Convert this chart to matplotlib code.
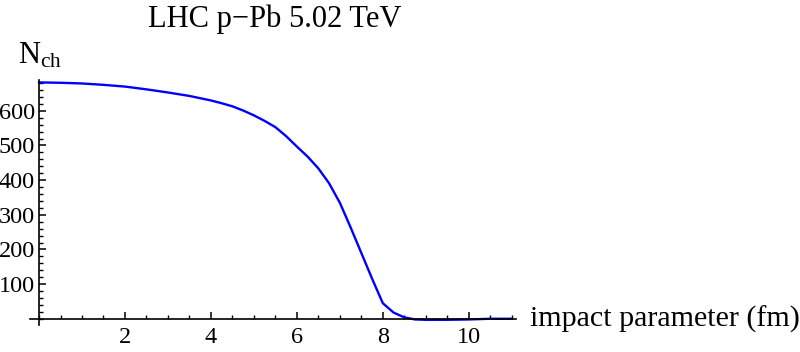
import numpy as np
import matplotlib.pyplot as plt
from matplotlib.ticker import MultipleLocator

plt.rcParams['font.family'] = ['Liberation Serif', 'DejaVu Serif']
plt.rcParams['mathtext.fontset'] = 'custom'
plt.rcParams['mathtext.rm'] = 'Liberation Serif'

# impact parameter (fm) and charged multiplicity
b = [0.0, 0.5, 1.0, 1.5, 2.0, 2.5, 3.0, 3.5, 4.0, 4.25, 4.5, 4.75, 5.0, 5.25,
     5.5, 5.75, 6.0, 6.25, 6.5, 6.75, 7.0, 7.25, 7.5, 7.75, 8.0, 8.25, 8.5,
     8.75, 9.0, 9.5, 10.0, 10.5, 11.0]
nch = [682, 681, 679, 675, 670, 662, 653, 643, 630, 622, 613, 601, 587, 571,
       553, 527, 497, 468, 434, 391, 335, 264, 190, 116, 45, 18, 4,
       -2, -3, -3, -2, 0, 0]

xticks = [2, 4, 6, 8, 10]
yticks = [100, 200, 300, 400, 500, 600]

fig = plt.figure(figsize=(8, 3.52), dpi=100)
ax = fig.add_axes([30/800, 27/352, 486/800, 245/352])

ax.plot(b, nch, color='#0000ff', lw=1.7)

ax.set_xlim(-0.21, 11.1)
ax.set_ylim(-18, 689)

# axes crossing at the origin, Mathematica style
ax.spines['left'].set_position(('data', 0))
ax.spines['bottom'].set_position(('data', 0))
ax.spines['top'].set_visible(False)
ax.spines['right'].set_visible(False)
for s in ['left', 'bottom']:
    ax.spines[s].set_linewidth(1.2)

ax.set_xticks(xticks)
ax.set_yticks(yticks)
ax.xaxis.set_minor_locator(MultipleLocator(0.5))
ax.yaxis.set_minor_locator(MultipleLocator(20))
ax.tick_params(which='major', direction='in', length=5, width=1.1, labelsize=17.5)
ax.tick_params(axis='x', which='major', pad=6)
ax.tick_params(axis='y', which='major', pad=3)
ax.tick_params(which='minor', direction='in', length=3, width=1.0)

fig.text(275/800, 1 - 27/352, 'LHC p\u2212Pb 5.02 TeV', fontsize=22,
         ha='center', va='baseline')
fig.text(18/800, 1 - 63/352, r'$\mathregular{N_{ch}}$', fontsize=22,
         ha='left', va='baseline')
fig.text(530/800, 1 - 327/352, 'impact parameter (fm)', fontsize=21.6,
         ha='left', va='baseline')

fig.savefig('out.png', dpi=100)
